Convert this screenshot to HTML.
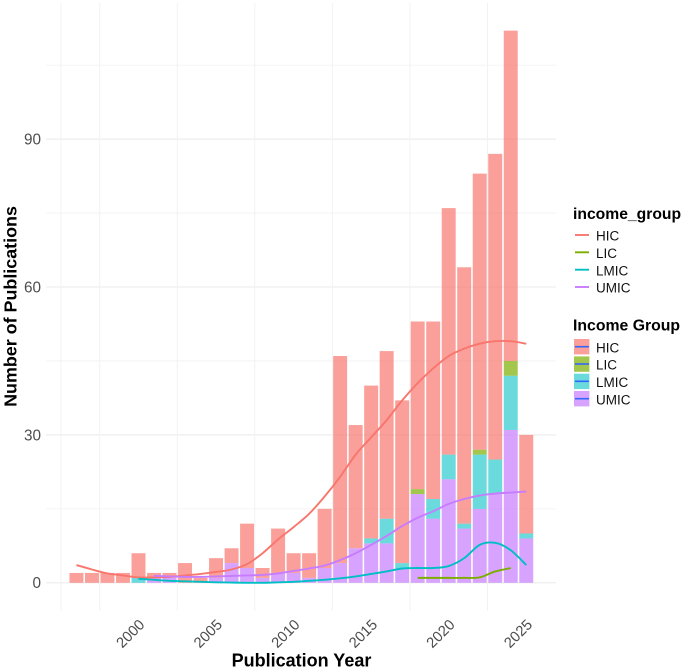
<!DOCTYPE html>
<html lang="en">
<head>
<meta charset="utf-8">
<title>Number of Publications by Year and Income Group</title>
<style>
html,body{margin:0;padding:0;background:#fff;width:685px;height:670px;overflow:hidden}
svg{display:block;font-family:"Liberation Sans",Arial,sans-serif}
</style>
</head>
<body>
<svg id="chart" width="685" height="670" viewBox="0 0 685 670" xmlns="http://www.w3.org/2000/svg">
  <g id="grid"></g>
  <g id="bars"></g>
  <g id="curves"></g>
  <g id="xticks"></g>
  <g id="yticks"></g>
  <text x="301.5" y="666.5" text-anchor="middle" font-size="18" font-weight="bold" fill="#000">Publication Year</text>
  <text transform="translate(16.5,306.5) rotate(-90)" text-anchor="middle" font-size="17.9" font-weight="bold" fill="#000">Number of Publications</text>

  <g>
    <text x="573" y="219" font-size="15.7" font-weight="bold">income_group</text>
    <line x1="575" x2="589" y1="235" y2="235" stroke="#F8766D" stroke-width="1.9"/>
    <text x="596" y="240.5" font-size="13.5" fill="#111">HIC</text>
    <line x1="575" x2="589" y1="252.3" y2="252.3" stroke="#7CAE00" stroke-width="1.9"/>
    <text x="596" y="258" font-size="13.5" fill="#111">LIC</text>
    <line x1="575" x2="589" y1="269.7" y2="269.7" stroke="#00BFC4" stroke-width="1.9"/>
    <text x="596" y="275.3" font-size="13.5" fill="#111">LMIC</text>
    <line x1="575" x2="589" y1="287" y2="287" stroke="#C77CFF" stroke-width="1.9"/>
    <text x="596" y="292.7" font-size="13.5" fill="#111">UMIC</text>
  </g>

  <g>
    <text x="573" y="330.7" font-size="15.8" font-weight="bold">Income Group</text>
    <rect x="574" y="339" width="15.4" height="15.4" fill="#F8766D" fill-opacity="0.7"/>
    <line x1="575" x2="589" y1="346.7" y2="346.7" stroke="#3366FF" stroke-width="1.6"/>
    <text x="596" y="352.3" font-size="13.5" fill="#111">HIC</text>
    <rect x="574" y="356.4" width="15.4" height="15.4" fill="#7CAE00" fill-opacity="0.7"/>
    <line x1="575" x2="589" y1="364" y2="364" stroke="#3366FF" stroke-width="1.6"/>
    <text x="596" y="369.7" font-size="13.5" fill="#111">LIC</text>
    <rect x="574" y="373.7" width="15.4" height="15.4" fill="#00BFC4" fill-opacity="0.58"/>
    <line x1="575" x2="589" y1="381.3" y2="381.3" stroke="#3366FF" stroke-width="1.6"/>
    <text x="596" y="387" font-size="13.5" fill="#111">LMIC</text>
    <rect x="574" y="391" width="15.4" height="15.4" fill="#C77CFF" fill-opacity="0.7"/>
    <line x1="575" x2="589" y1="398.7" y2="398.7" stroke="#3366FF" stroke-width="1.6"/>
    <text x="596" y="404.4" font-size="13.5" fill="#111">UMIC</text>
  </g>
</svg>

<script>
const years = [1996,1997,1998,1999,2000,2001,2002,2003,2004,2005,2006,2007,2008,2009,2010,2011,2012,2013,2014,2015,2016,2017,2018,2019,2020,2021,2022,2023,2024,2025];
const barUMIC = [0,0,0,0,0,1,1,0,0,1,4,3,1,2,2,1,3,4,7,8,8,3,18,13,21,11,15,18,31,9];
const barLMIC = [0,0,0,0,1,0,0,0,0,0,0,0,0,0,0,0,0,0,0,1,5,1,0,4,5,1,11,7,11,1];
const barLIC  = [0,0,0,0,0,0,0,0,0,0,0,0,0,0,0,0,0,0,0,0,0,0,1,0,0,0,1,0,3,0];
const barHIC  = [2,2,2,2,5,1,1,4,1,4,3,9,2,9,4,5,12,42,25,31,34,33,34,36,50,52,56,62,67,20];

const yearsHIC = [1996,1997,1998,1999,2000,2001,2002,2003,2004,2005,2006,2007,2008,2009,2010,2011,2012,2013,2014,2015,2016,2017,2018,2019,2020,2021,2022,2023,2024,2025];
const curveHIC = [3.6,2.7,1.9,1.5,1.1,1.1,1.2,1.5,1.8,2.2,2.7,3.8,6,8.8,11.3,14,17.5,21.5,26,29.5,33,37,40.5,43.5,46,47.5,48.5,49,49,48.5];
const yearsLIC = [2018,2019,2020,2021,2022,2023,2024];
const curveLIC = [1,1,1,1,1.1,2.3,3];
const yearsLMIC = [2000,2001,2002,2003,2004,2005,2006,2007,2008,2009,2010,2011,2012,2013,2014,2015,2016,2017,2018,2019,2020,2021,2022,2023,2024,2025];
const curveLMIC = [0.8,0.6,0.4,0.3,0.2,0.1,0.05,0,0,0.1,0.2,0.4,0.6,0.9,1.3,1.8,2.3,2.9,3,3,3.4,5,7.7,8.1,6.6,3.6];
const yearsUMIC = [2001,2002,2003,2004,2005,2006,2007,2008,2009,2010,2011,2012,2013,2014,2015,2016,2017,2018,2019,2020,2021,2022,2023,2024,2025];
const curveUMIC = [1.4,1.3,1.2,1.2,1.3,1.4,1.5,1.6,1.9,2.4,2.9,3.5,4.6,6,7.7,9.5,11.5,13.2,14.5,16,17,17.7,18.1,18.3,18.5];

const xTickLabels = [2000,2005,2010,2015,2020,2025];
const yTickLabels = [0,30,60,90];
const yMinorBreaks = [15,45,75,105];
const xMinorBreaks = [1995,1997.5,2002.5,2007.5,2012.5,2017.5,2022.5];

const NS = 'http://www.w3.org/2000/svg';
function xScale(v){ return 138.5 + (v - 2000) * 15.51; }
function yScale(v){ return 582.8 - v * 4.93; }
const panelLeft = 46, panelRight = 556, panelTop = 3, panelBottom = 610.5;
const barFrac = 0.9;

function mk(tag, attrs){
  const el = document.createElementNS(NS, tag);
  for (const k in attrs) el.setAttribute(k, attrs[k]);
  return el;
}

const grid = document.getElementById('grid');
yMinorBreaks.forEach(function(v){
  const el = mk('line', {x1:panelLeft, x2:panelRight, y1:yScale(v), y2:yScale(v), stroke:'#f1f1f1', 'stroke-width':0.8});
  
  
  grid.appendChild(el);
});
yTickLabels.forEach(function(v){
  const el = mk('line', {x1:panelLeft, x2:panelRight, y1:yScale(v), y2:yScale(v), stroke:'#ebebeb', 'stroke-width':1.1});
  
  
  grid.appendChild(el);
});
xMinorBreaks.forEach(function(v){
  const el = mk('line', {x1:xScale(v), x2:xScale(v), y1:panelTop, y2:panelBottom, stroke:'#f1f1f1', 'stroke-width':0.9});
  
  
  grid.appendChild(el);
});

const barsG = document.getElementById('bars');
const stackOrder = [
  {key:'umic', values:barUMIC, color:'#C77CFF'},
  {key:'lmic', values:barLMIC, color:'#00BFC4'},
  {key:'lic',  values:barLIC,  color:'#7CAE00'},
  {key:'hic',  values:barHIC,  color:'#F8766D'}
];
const barW = 15.51 * barFrac;
years.forEach(function(yr, i){
  let base = 0;
  stackOrder.forEach(function(s){
    const val = s.values[i];
    if (val > 0) {
      const top = yScale(base + val), bot = yScale(base);
      const r = mk('rect', {x:xScale(yr) - barW/2, y:top, width:barW, height:bot - top, fill:s.color, 'fill-opacity':s.key === 'lmic' ? 0.58 : 0.7});
      
      
      barsG.appendChild(r);
    }
    base += val;
  });
});

function smoothPath(xs, ys){
  const pts = xs.map(function(x, i){ return [xScale(x), yScale(ys[i])]; });
  let d = 'M' + pts[0][0].toFixed(2) + ' ' + pts[0][1].toFixed(2);
  for (let i = 0; i < pts.length - 1; i++) {
    const p0 = pts[Math.max(i - 1, 0)], p1 = pts[i], p2 = pts[i + 1], p3 = pts[Math.min(i + 2, pts.length - 1)];
    const c1x = p1[0] + (p2[0] - p0[0]) / 6, c1y = p1[1] + (p2[1] - p0[1]) / 6;
    const c2x = p2[0] - (p3[0] - p1[0]) / 6, c2y = p2[1] - (p3[1] - p1[1]) / 6;
    d += 'C' + c1x.toFixed(2) + ' ' + c1y.toFixed(2) + ' ' + c2x.toFixed(2) + ' ' + c2y.toFixed(2) + ' ' + p2[0].toFixed(2) + ' ' + p2[1].toFixed(2);
  }
  return d;
}
const curvesG = document.getElementById('curves');
const curveDefs = [
  {name:'curve-hic', xs:yearsHIC, ys:curveHIC, color:'#F8766D'},
  {name:'curve-lic', xs:yearsLIC, ys:curveLIC, color:'#7CAE00'},
  {name:'curve-lmic', xs:yearsLMIC, ys:curveLMIC, color:'#00BFC4'},
  {name:'curve-umic', xs:yearsUMIC, ys:curveUMIC, color:'#C77CFF'}
];
curveDefs.forEach(function(c){
  const p = mk('path', {d:smoothPath(c.xs, c.ys), fill:'none', stroke:c.color, 'stroke-width':1.9});
  
  
  curvesG.appendChild(p);
});

const xT = document.getElementById('xticks');
xTickLabels.forEach(function(v){
  const tx = xScale(v) + 7, ty = 625.5;
  const t = mk('text', {transform:'translate(' + tx + ',' + ty + ') rotate(-45)', 'text-anchor':'end', 'font-size':14.8, fill:'#4d4d4d'});
  t.textContent = v;
  
  
  xT.appendChild(t);
});
const yT = document.getElementById('yticks');
yTickLabels.forEach(function(v){
  const t = mk('text', {x:41, y:yScale(v) + 5.4, 'text-anchor':'end', 'font-size':15.3, fill:'#4d4d4d'});
  t.textContent = v;
  
  
  yT.appendChild(t);
});
</script>
</body>
</html>
